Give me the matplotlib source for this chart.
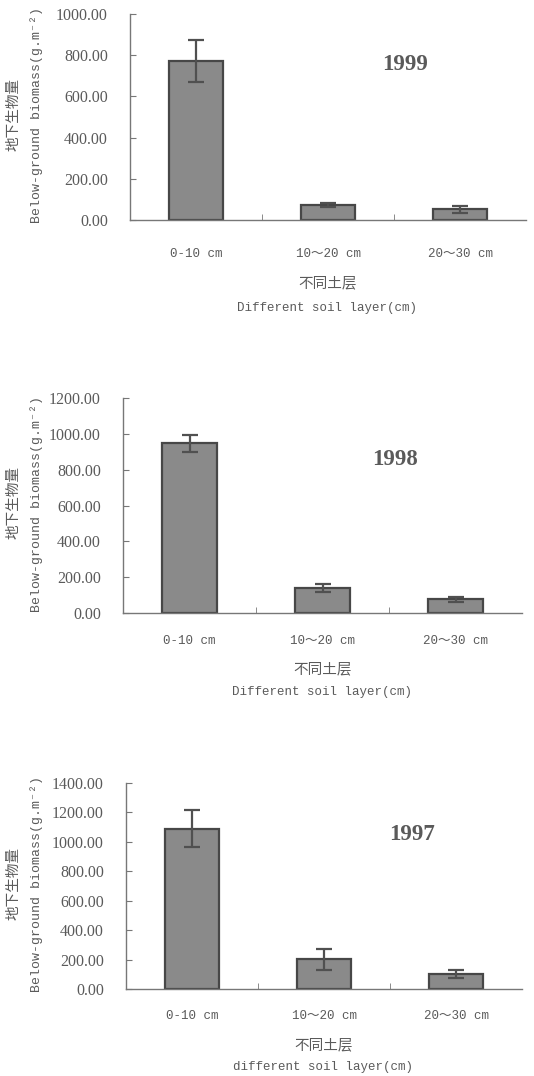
import numpy as np
import matplotlib
matplotlib.use('agg')
import matplotlib.pyplot as plt

# soil layers
layers = ['0-10 cm', '10～20 cm', '20～30 cm']

# below-ground biomass (g.m-2) and error per year
years = ['1999', '1998', '1997']
biomass_1999 = [770, 72, 52]
err_1999 = [102, 10, 18]
biomass_1998 = [948, 138, 78]
err_1998 = [47, 23, 14]
biomass_1997 = [1090, 202, 101]
err_1997 = [128, 70, 28]

ymax = [1000, 1200, 1400]
ystep = [200, 200, 200]
xlabels_en = ['Different soil layer(cm)', 'Different soil layer(cm)', 'different soil layer(cm)']

W, H = 534, 1076
TXT = '#5a5a5a'
SERIF = ['Liberation Serif', 'Noto Sans CJK SC']
MONO = ['Liberation Mono', 'Noto Sans CJK SC', 'DejaVu Sans Mono']
CJK = ['Noto Sans CJK SC']

fig = plt.figure(figsize=(W / 100, H / 100), dpi=100)

# axes boxes in pixels: left, top, width, bottom
boxes = [(130, 14, 396, 220), (123, 398, 399, 613), (126, 783, 396, 989)]
year_pos = [(405, 65), (395, 460), (412, 835)]
# offsets below the axis for: category labels pad (pt), chinese label, english label
cat_pad = [20, 16, 15]
cn_off = [63, 56, 56]
en_off = [88, 79, 78]

series = [(biomass_1999, err_1999), (biomass_1998, err_1998), (biomass_1997, err_1997)]


def px(x, y):
    return x / W, 1 - y / H


for i, (vals, errs) in enumerate(series):
    left, top, width, bottom = boxes[i]
    ax = fig.add_axes([left / W, 1 - bottom / H, width / W, (bottom - top) / H])
    x = np.arange(len(layers)) + 0.5
    ax.bar(x, vals, width=0.41, color='#8a8a8a', edgecolor='#474747', linewidth=1.6, zorder=2)
    ax.errorbar(x, vals, yerr=errs, fmt='none', ecolor='#505050', elinewidth=1.6,
                capsize=5.5, capthick=1.6, zorder=3)
    ax.set_xlim(0, 3)
    ax.set_ylim(0, ymax[i])
    ax.set_yticks(np.arange(0, ymax[i] + 1, ystep[i]))
    ax.set_yticklabels(['%.2f' % v for v in np.arange(0, ymax[i] + 1, ystep[i])],
                       family=SERIF, fontsize=11.5, color=TXT)
    ax.set_xticks(x)
    ax.set_xticklabels(layers, family=MONO, fontsize=9, color=TXT)
    ax.set_xticks([1, 2], minor=True)
    ax.tick_params(axis='x', which='major', length=0, pad=cat_pad[i])
    ax.tick_params(axis='x', which='minor', direction='in', length=4, color='#777777')
    ax.tick_params(axis='y', direction='in', length=4, color='#777777', pad=16)
    for s in ['top', 'right']:
        ax.spines[s].set_visible(False)
    for s in ['left', 'bottom']:
        ax.spines[s].set_color('#777777')
        ax.spines[s].set_linewidth(1.0)
    ax.set_facecolor('none')

    # year label
    yx, yy = year_pos[i]
    fig.text(*px(yx, yy), years[i], family=SERIF, fontsize=16.5, fontweight='bold',
             color=TXT, ha='center', va='center')

    # y labels
    cy = (top + bottom) / 2
    fig.text(*px(13, cy - 3), '地下生物量', family=CJK, fontsize=10.5, color=TXT,
             rotation=90, ha='center', va='center')
    fig.text(*px(37, cy - 2), 'Below-ground biomass(g.m⁻²)', family=MONO, fontsize=9.5,
             color=TXT, rotation=90, ha='center', va='center')

    # x labels
    cx = left + width * 0.5
    fig.text(*px(cx, bottom + cn_off[i]), '不同土层', family=CJK, fontsize=10.5, color=TXT,
             ha='center', va='center')
    fig.text(*px(cx - 1, bottom + en_off[i]), xlabels_en[i], family=MONO, fontsize=9,
             color=TXT, ha='center', va='center')

fig.savefig('out.png', dpi=100, facecolor='white')
